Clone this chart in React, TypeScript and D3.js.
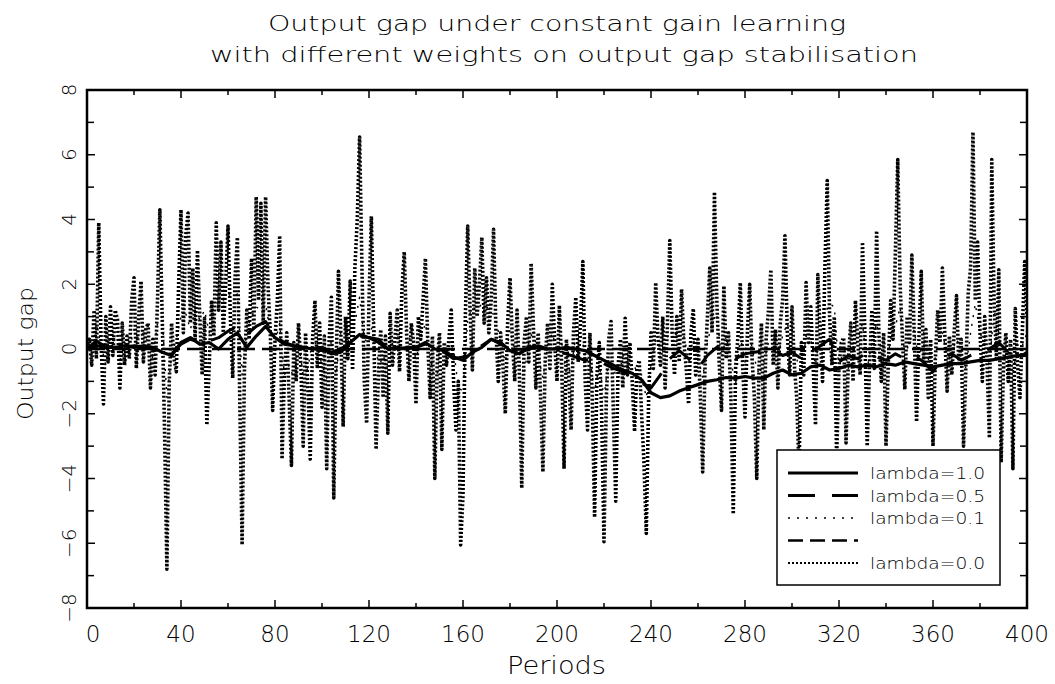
import React, { useEffect, useRef } from 'react';
import * as d3 from 'd3';

// lambda = 0.0, one value per period (0..400)
const lambda00 = [
  0.0, 0.3, -0.5, 1.2, -0.3, 3.9, 0.2, -1.7, 1.0, -0.4,
  1.3, -0.2, 1.2, 0.9, -1.2, 0.8, -0.5, 0.4, -0.3, 1.5,
  2.2, -0.6, 1.0, 2.1, -0.4, 0.6, 0.8, -1.2, 0.3, -0.8,
  1.5, 4.3, 1.0, -2.5, -6.8, -1.0, 0.8, -0.3, -0.7, 2.0,
  4.3, 0.5, 3.5, 4.2, 0.8, 2.5, 0.3, 3.05, 1.0, -0.8,
  0.95, -2.35, -0.5, 1.5, 0.4, 3.9, 1.2, 3.3, 0.5, 2.0,
  3.8, 1.0, -0.9, 2.2, 3.45, -1.5, -6.05, -0.6, 1.2, 0.3,
  2.8, 0.6, 4.7, 1.5, 4.5, 0.8, 4.7, 2.0, 0.5, -1.9,
  0.3, 1.5, 3.5, -3.4, -0.8, 0.5, -1.5, -3.6, 0.2, -1.0,
  0.8, -0.5, -3.0, 0.5, -1.2, -3.4, 0.3, 1.5, -0.6, 0.8,
  -1.8, 0.4, -3.7, 0.2, 1.6, -4.6, -0.5, 2.4, 0.5, -2.4,
  1.0, -0.3, 2.1, -0.65, 2.5, 4.0, 6.55, 2.5, -1.0, -2.3,
  1.5, 4.1, 0.6, -3.1, -0.8, 0.6, -1.5, 0.4, -2.6, 1.1,
  -0.5, 0.3, 1.2, -0.7, 1.8, 3.0, 0.5, -1.0, 0.8, 0.2,
  -1.7, 1.0, 0.3, 1.5, 2.8, 0.2, -1.5, 0.4, -4.0, -0.5,
  0.5, -3.1, 0.2, -0.5, 0.3, 1.2, -1.0, -2.5, -1.0, -6.05,
  -4.5, 1.0, 3.8, 1.2, -0.65, 2.5, 1.0, 2.0, 3.45, 0.8,
  2.2, 0.5, 1.5, 3.7, 0.6, -1.0, 0.5, -0.5, -2.0, 0.8,
  2.2, 0.3, -1.0, 1.2, -0.8, -4.3, 0.2, 1.0, -0.4, 2.65,
  0.6, -1.2, 0.5, -1.5, -3.8, -0.3, 0.8, -0.6, 2.0, 0.2,
  -1.0, 1.35, -0.5, -3.7, 0.3, -0.8, -2.5, 0.5, 1.6, -0.4,
  0.8, 2.7, -1.0, -2.5, 0.5, -1.5, -5.2, -0.8, 0.2, -2.0,
  -5.95, -1.5, 0.3, 0.85, -2.0, -4.7, -0.5, 0.3, -1.2, 0.95,
  -0.8, 0.2, -1.0, -2.55, -0.6, -0.35, -2.0, -3.5, -5.7, -1.5,
  0.5, -0.6, 2.05, 0.3, -0.5, 1.0, -1.2, 0.8, 3.35, 0.5,
  -0.8, 1.0, -0.4, 1.85, 0.2, -0.6, -1.7, 0.5, 1.25, -0.8,
  0.3, -1.5, -3.8, -0.5, 1.0, 2.5, 0.5, 4.85, 1.5, -0.4,
  -1.9, 1.95, -0.3, 0.5, -1.5, -5.1, -0.6, 0.4, 2.05, -0.5,
  -2.1, 0.5, 2.0, -0.3, -1.5, -4.0, -0.5, 0.8, -2.5, 0.3,
  1.2, 2.45, -0.5, 0.6, -1.2, 0.8, 1.5, 3.5, 0.5, -0.8,
  1.3, -0.5, -1.5, -3.7, 0.2, -0.8, 2.05, 0.2, 1.3, -0.5,
  -2.35, 2.3, 0.5, -1.0, 2.5, 5.2, 1.0, -0.5, 1.0, -3.4,
  -0.5, 0.2, 0.35, -2.9, -0.3, 0.8, -1.0, 1.5, 0.2, -0.8,
  3.3, 0.5, -3.0, -0.5, 1.2, -0.6, 3.65, 0.4, -1.0, 0.5,
  -3.0, -0.4, 1.5, 0.3, 3.0, 5.85, 2.0, 0.3, -1.25, 1.0,
  0.2, 2.9, 0.5, -2.25, 0.3, 2.4, -0.4, 0.6, -1.5, 0.3,
  -3.0, -0.3, 1.2, 0.2, 2.5, 0.5, -1.3, 0.4, -0.8, 0.5,
  1.65, -0.5, 0.3, -3.0, -0.5, 1.75, 2.5, 6.7, 1.5, 3.3,
  0.5, -1.0, 1.0, -0.5, -2.75, 5.85, 1.5, -0.3, 2.45, -3.5,
  -0.5, 0.5, -1.0, 0.3, -3.7, 1.25, -0.5, -1.5, 0.5, 2.7,
  1.0,
];

// lambda = 0.1, every 2 periods
const lambda01 = [
  0, -0.2, 0.8, 0.1, -0.5, 0.4, 0.3, -0.4, 0.2, 0.0,
  0.6, 0.3, 0.5, 0.2, -0.3, 0.8, 1.0, -1.5, -0.2, 0.3,
  1.0, 1.1, 0.6, 1.2, 0.9, 1.2, 0.5, 1.1, 1.3, 1.5,
  1.7, 1.6, 1.7, -0.8, 0.6, 1.0, 1.3, 1.2, 1.4, 0.5,
  0.2, 0.8, -0.8, -0.5, -0.9, 0.2, -0.8, -0.6, 0.3, 0.1,
  -0.5, -0.9, 0.3, -0.8, 0.5, -0.3, 0.6, 0.8, 1.6, 0.3,
  0.2, 1.0, -0.6, -0.2, -0.6, 0.2, 0.3, 0.7, 0.6, 0.2,
  -0.3, 0.3, 0.8, -0.2, -1.0, -0.5, -0.6, 0.2, 0.0, -1.2,
  -1.3, 0.9, 1.3, 1.2, 1.4, 1.3, 1.2, 0.9, 0.2, -0.4,
  0.6, -0.1, -0.3, -0.8, 0.2, 0.6, -0.2, -0.9, 0.1, 0.5,
  -0.1, 0.2, -0.8, -0.6, 0.4, 0.5, -0.2, -0.3, -1.3, -0.5,
  -1.5, -0.3, -0.6, -1.0, -0.2, -0.3, -0.4, -0.7, -0.8, -1.5,
  -0.5, 0.3, 0.0, 0.3, 0.45, 0.45, 0.45, 0.4, -0.3, 0.3,
  -0.2, -0.9, 0.2, 0.8, 1.1, -0.3, 0.4, -0.4, -1.1, 0.4,
  -0.4, 0.4, -0.3, -0.8, -0.4, 0.2, 0.5, -0.2, 0.4, 0.8,
  0.2, -0.3, -0.8, 0.4, 0.3, -0.5, 0.6, 1.1, 1.4, 1.3,
  -0.7, 0.1, -0.6, -0.1, 0.3, 0.8, -0.6, 0.2, 0.8, -0.1,
  -0.6, 0.3, 0.7, 1.3, -0.2, 0.2, 0.6, -0.4, 0.5, -0.3,
  -0.7, 0.2, 0.5, -0.2, -0.1, 0.3, 0.0, -0.6, 0.5, 1.4,
  0.5, 0.1, -0.5, 1.2, 0.5, -0.7, -0.2, -0.8, 0.2, 0.1,
  0.5,
];

// lambda = 0.5, every 4 periods
const lambda05 = [
  0.0, 0.1, 0.05, 0.1, 0.05, 0.1, 0.05, 0.0, -0.1, -0.15,
  0.15, 0.3, 0.2, 0.25, 0.35, 0.55, 0.7, 0.45, 0.7, 0.85,
  0.4, 0.2, 0.1, 0.05, 0.0, 0.0, -0.1, 0.0, 0.2, 0.4,
  0.35, 0.2, 0.0, 0.0, 0.05, 0.05, 0.15, 0.05, -0.1, -0.3,
  -0.25, 0.0, 0.1, 0.3, 0.15, 0.0, -0.1, 0.0, 0.05, 0.0,
  -0.05, -0.15, -0.25, -0.35, -0.3, -0.45, -0.6, -0.7, -0.85, -1.05,
  -1.2, -0.8, -0.3, -0.05, -0.3, -0.6, -0.2, 0.05, -0.1, -0.3,
  -0.15, -0.1, -0.05, 0.0, -0.2, -0.1, -0.3, -0.15, 0.1, 0.3,
  -0.4, -0.2, -0.3, -0.1, -0.25, -0.35, -0.15, -0.3, -0.2, -0.4,
  -0.7, -0.3, -0.15, -0.35, -0.2, -0.1, 0.0, 0.2, -0.1, -0.3,
  -0.1,
];

// lambda = 1.0, every 4 periods
const lambda10 = [
  0.0, 0.25, 0.05, 0.05, 0.1, 0.05, 0.1, 0.05, -0.1, -0.2,
  0.2, 0.35, 0.15, 0.2, 0.0, 0.3, 0.5, 0.05, 0.4, 0.7,
  0.35, 0.15, 0.1, 0.05, 0.0, 0.05, -0.15, -0.1, 0.2, 0.45,
  0.35, 0.3, 0.0, 0.05, 0.0, 0.05, 0.2, 0.0, -0.05, -0.25,
  -0.35, -0.1, 0.05, 0.3, 0.2, -0.05, -0.15, 0.05, 0.1, 0.0,
  0.0, 0.05, 0.0, -0.05, -0.2, -0.35, -0.5, -0.65, -0.75, -0.95,
  -1.35, -1.5, -1.45, -1.3, -1.2, -1.1, -1.0, -0.95, -0.88, -0.9,
  -0.85, -0.9, -0.9, -0.75, -0.65, -0.8, -0.75, -0.55, -0.5, -0.65,
  -0.6, -0.5, -0.55, -0.5, -0.55, -0.45, -0.5, -0.4, -0.45, -0.5,
  -0.55, -0.5, -0.45, -0.45, -0.4, -0.35, -0.35, -0.3, -0.25, -0.2,
  -0.2,
];

// unlabelled dashed reference line
const zeroLine = [0, 0];
const zeroPeriods = [0, 400];

const xMajor = [0, 40, 80, 120, 160, 200, 240, 280, 320, 360, 400];
const xMinor = [20, 60, 100, 140, 180, 220, 260, 300, 340, 380];
const yMajor = [-8, -6, -4, -2, 0, 2, 4, 6, 8];
const yMinor = [-7, -5, -3, -1, 1, 3, 5, 7];

const legendLabels = ['lambda=1.0', 'lambda=0.5', 'lambda=0.1', '', 'lambda=0.0'];

const FONT = '"DejaVu Sans", "Liberation Sans", sans-serif';

const App = () => {
  const ref = useRef(null);

  useEffect(() => {
    const svg = d3.select(ref.current);
    svg.selectAll('*').remove();

    const x = d3.scaleLinear().domain([0, 400]).range([87, 1027]);
    const y = d3.scaleLinear().domain([-8, 8]).range([608, 90]);

    svg.append('defs').append('clipPath').attr('id', 'plot')
      .append('rect').attr('x', 87).attr('y', 90).attr('width', 940).attr('height', 518);

    const g = svg.append('g').attr('clip-path', 'url(#plot)');

    const line = (step) => d3.line().x((d, i) => x(i * step)).y(d => y(d));

    const styles = [
      { data: lambda00, step: 1, w: 3.6, dash: '2 2' },
      { data: lambda01, step: 2, w: 1.4, dash: '2 7' },
      { data: null, step: 0, w: 2.5, dash: '18 7' },
      { data: lambda05, step: 4, w: 3, dash: '27 17' },
      { data: lambda10, step: 4, w: 3.2, dash: null },
    ];

    styles.forEach(s => {
      const path = g.append('path').attr('fill', 'none').attr('stroke', '#000')
        .attr('stroke-width', s.w).attr('stroke-linejoin', 'round');
      if (s.data) {
        path.datum(s.data).attr('d', line(s.step));
      } else {
        path.datum(zeroLine).attr('d', d3.line().x((d, i) => x(zeroPeriods[i])).y(d => y(d)));
      }
      if (s.dash) path.attr('stroke-dasharray', s.dash);
    });

    // frame
    svg.append('rect').attr('x', 87).attr('y', 90).attr('width', 940).attr('height', 518)
      .attr('fill', 'none').attr('stroke', '#000').attr('stroke-width', 2.5);

    // ticks (inward on all four sides)
    const tick = (x1, y1, x2, y2) => svg.append('line')
      .attr('x1', x1).attr('y1', y1).attr('x2', x2).attr('y2', y2)
      .attr('stroke', '#000').attr('stroke-width', 1.5);
    xMajor.forEach(v => { tick(x(v), 608, x(v), 600); tick(x(v), 90, x(v), 98); });
    xMinor.forEach(v => { tick(x(v), 608, x(v), 603); tick(x(v), 90, x(v), 95); });
    yMajor.forEach(v => { tick(87, y(v), 95, y(v)); tick(1027, y(v), 1019, y(v)); });
    yMinor.forEach(v => { tick(87, y(v), 94, y(v)); tick(1027, y(v), 1020, y(v)); });

    const text = (t, size) => svg.append('text').text(t)
      .attr('font-family', FONT).attr('font-weight', 200)
      .attr('font-size', size).attr('fill', '#000');

    xMajor.forEach(v => {
      text(String(v), 23).attr('x', v === 0 ? x(v) + 6 : x(v)).attr('y', 642).attr('text-anchor', 'middle');
    });
    yMajor.forEach(v => {
      text(v < 0 ? '\u2212' + Math.abs(v) : String(v), 20)
        .attr('text-anchor', 'middle')
        .attr('transform', `translate(76,${y(v)}) rotate(-90)`);
    });

    // titles
    text('Output gap under constant gain learning', 22)
      .attr('x', 268).attr('y', 31).attr('textLength', 578).attr('lengthAdjust', 'spacingAndGlyphs');
    text('with different weights on output gap stabilisation', 22)
      .attr('x', 210).attr('y', 62).attr('textLength', 708).attr('lengthAdjust', 'spacingAndGlyphs');
    text('Periods', 24)
      .attr('x', 507).attr('y', 674).attr('textLength', 99).attr('lengthAdjust', 'spacingAndGlyphs');
    text('Output gap', 22)
      .attr('transform', 'translate(33,420) rotate(-90)')
      .attr('textLength', 133).attr('lengthAdjust', 'spacingAndGlyphs');

    // legend
    svg.append('rect').attr('x', 777).attr('y', 450).attr('width', 223).attr('height', 135)
      .attr('fill', '#fff').attr('stroke', '#000').attr('stroke-width', 1.5);
    const legendStyles = [styles[4], styles[3], styles[1], styles[2], styles[0]];
    legendStyles.forEach((s, i) => {
      const ly = 473 + i * 22.5;
      const l = svg.append('line').attr('x1', 788).attr('x2', 858).attr('y1', ly).attr('y2', ly)
        .attr('stroke', '#000').attr('stroke-width', i === 4 ? 2 : s.w);
      if (s.dash) l.attr('stroke-dasharray', i === 3 ? '15 7' : s.dash);
      if (legendLabels[i]) {
        text(legendLabels[i], 16).attr('x', 870).attr('y', ly + 6)
          .attr('textLength', 115).attr('lengthAdjust', 'spacingAndGlyphs');
      }
    });
  }, []);

  return <svg ref={ref} width={1055} height={684}
    style={{ position: 'absolute', left: 0, top: 0, background: '#fff' }} />;
};

export default App;
